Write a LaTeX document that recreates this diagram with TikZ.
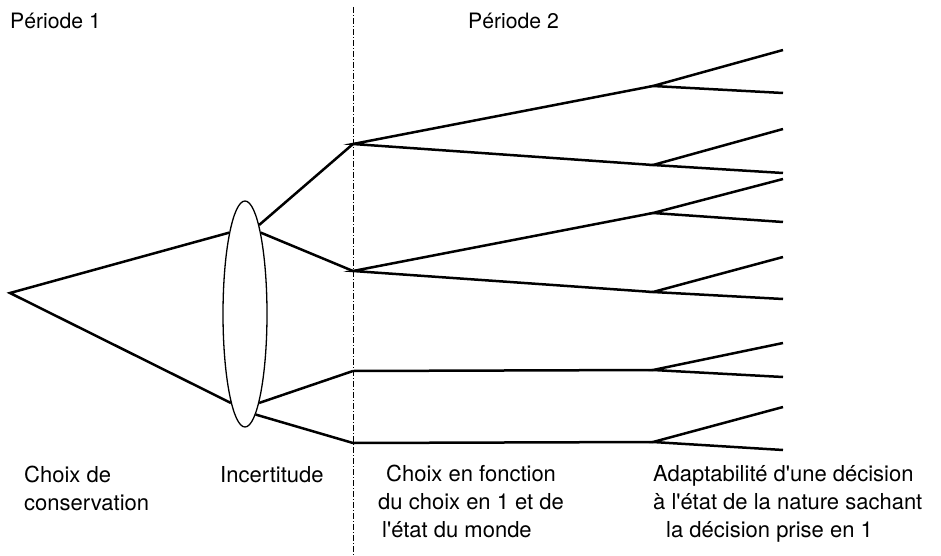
\documentclass[tikz,border=0pt]{standalone}
\usepackage{fontspec}
\setmainfont{TeX Gyre Heros}[Ligatures=TeXOff]
\usetikzlibrary{shapes.geometric}

\begin{document}
\begin{tikzpicture}[x=1pt,y=-1pt,
    branch/.style={line width=2.5pt,line join=miter},
    lbl/.style={anchor=base west,inner sep=0pt,align=left,
      font=\fontsize{22}{28}\selectfont},
    period/.style={lbl,font=\fontsize{21.2}{26}\selectfont}]
\useasboundingbox (0,0) rectangle (941,556);
% periods and divider
\node[period] (per1) at (10,29) {Période 1};
\node[period] (per2) at (468,29) {Période 2};
\draw[line width=0.8pt,dash pattern=on 6pt off 2pt on 1pt off 2pt] (353,7) -- (353,556);
% first choice and uncertainty
\coordinate (root) at (10,293);
\node[draw,ellipse,line width=1.3pt,inner sep=0pt,minimum width=44pt,
  minimum height=226pt] (incert) at (245,314) {};
\draw[branch] (incert.101.6) -- (root) -- (incert.261.9);
% choices in period 2
\coordinate (c1) at (353,144);
\coordinate (c2) at (353,271);
\coordinate (c3) at (353,371);
\coordinate (c4) at (353,443);
\draw[branch] (incert.81) -- (c1);
\draw[branch] (incert.79.5) -- (c2);
\draw[branch] (incert.279.2) -- (c3);
\draw[branch] (incert.276.3) -- (c4);
\coordinate (d1) at (653,86);
\coordinate (d2) at (653,165);
\coordinate (d3) at (653,213);
\coordinate (d4) at (653,292);
\coordinate (d5) at (653,370);
\coordinate (d6) at (653,442);
\draw[branch] (d1) -- (c1) -- (d2);
\draw[branch] (d3) -- (c2) -- (d4);
\draw[branch] (c3) -- (d5);
\draw[branch] (c4) -- (d6);
% states of nature
\foreach \d/\a/\b in {d1/50/93,d2/129/173,d3/179/222,d4/257/299,d5/343/377,d6/407/450}{
  \coordinate (\d u) at (783,\a);
  \coordinate (\d l) at (783,\b);
  \draw[branch] (\d u) -- (\d) -- (\d l);
}
% captions (base = last line)
\node[lbl] (choix1) at (24,510) {Choix de\\conservation};
\node[lbl] (incertlbl) at (220,482) {Incertitude};
\node[lbl] (choix2) at (378,537) {\hspace*{8pt}Choix en fonction\\du choix en 1 et de\\\hspace*{4pt}l'état du monde};
\node[lbl] (adapt) at (653,537) {Adaptabilité d'une décision\\à l'état de la nature sachant\\\hspace*{13pt}la décision prise en 1};
\end{tikzpicture}
\end{document}
